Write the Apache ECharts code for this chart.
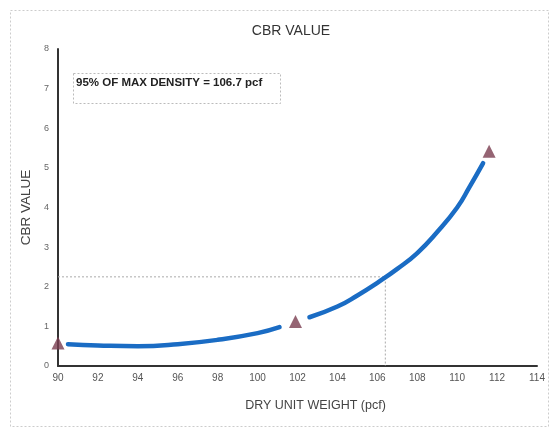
<!DOCTYPE html>
<html>
<head>
<meta charset="utf-8">
<script src="https://cdn.jsdelivr.net/npm/echarts@6/dist/echarts.min.js"></script>
<style>
html,body{margin:0;padding:0;background:#fff;}
#chart{width:550px;height:435px;}
</style>
</head>
<body>
<div id="chart"></div>
<script>
// Data
const xTicks = [90, 92, 94, 96, 98, 100, 102, 104, 106, 108, 110, 112, 114];
const curve1X = [90.5, 92, 94, 96, 98, 100, 101.1];
const curve1Y = [0.55, 0.52, 0.50, 0.55, 0.66, 0.83, 0.98];
const curve2X = [102.6, 104, 105, 106, 107, 108, 109, 110, 110.6, 111.3];
const curve2Y = [1.23, 1.50, 1.78, 2.10, 2.45, 2.85, 3.38, 4.00, 4.50, 5.12];
const pointsX = [90, 101.9, 111.6];
const pointsY = [0.58, 1.12, 5.42];
const refX = 106.4;
const refY = 2.25;
const annotation = '95% OF MAX DENSITY = 106.7 pcf';

const zip = (a, b) => a.map((v, i) => [v, b[i]]);

const chart = echarts.init(document.getElementById('chart'));
const font = '"Liberation Sans", Arial, sans-serif';
chart.setOption({
  animation: false,
  backgroundColor: '#fff',
  title: {
    text: 'CBR VALUE',
    left: 286, top: 19, textAlign: 'center',
    textStyle: {fontFamily: font, fontSize: 14, fontWeight: 'normal', color: '#333'}
  },
  grid: {left: 58, right: 13, top: 49, bottom: 69},
  xAxis: {
    type: 'value', min: 90, max: 114, interval: 2,
    name: 'DRY UNIT WEIGHT (pcf)', nameLocation: 'middle', nameGap: 33,
    nameTextStyle: {fontFamily: font, fontSize: 12.5, color: '#444', padding: [0, 0, 0, 36]},
    axisLine: {lineStyle: {color: '#333', width: 2}},
    axisTick: {show: false},
    splitLine: {show: false},
    axisLabel: {fontFamily: font, fontSize: 10, color: '#555', margin: 7}
  },
  yAxis: {
    type: 'value', min: 0, max: 8, interval: 1,
    name: 'CBR VALUE', nameLocation: 'middle', nameGap: 25,
    nameTextStyle: {fontFamily: font, fontSize: 13.5, color: '#444', padding: [0, 0, 0, 0]},
    axisLine: {show: true, lineStyle: {color: '#333', width: 2}},
    axisTick: {show: false},
    splitLine: {show: false},
    axisLabel: {fontFamily: font, fontSize: 9, color: '#666', margin: 9}
  },
  graphic: [
    {type: 'rect', left: 8, top: 8, shape: {width: 538, height: 416},
     style: {fill: 'none', stroke: '#ccc', lineWidth: 1, lineDash: [2, 2]}, silent: true, z: -1},
    {type: 'rect', left: 73, top: 73, shape: {width: 207, height: 30},
     style: {fill: '#fff', stroke: '#bbb', lineWidth: 1, lineDash: [2, 2]}, z: 10},
    {type: 'text', left: 76, top: 77, z: 11,
     style: {text: annotation, font: 'bold 11.5px "Liberation Sans", Arial, sans-serif', fill: '#222'}}
  ],
  series: [
    {type: 'line', data: [[90, refY], [refX, refY], [refX, 0]], symbol: 'none',
     lineStyle: {color: '#aaa', width: 1, type: [2, 2]}, z: 1},
    {type: 'line', smooth: 0.5, data: zip(curve1X, curve1Y), symbol: 'none',
     lineStyle: {color: '#1a6cc4', width: 4.5, cap: 'round'}, z: 3},
    {type: 'line', smooth: 0.5, data: zip(curve2X, curve2Y), symbol: 'none',
     lineStyle: {color: '#1a6cc4', width: 4.5, cap: 'round'}, z: 3},
    {type: 'scatter', data: zip(pointsX, pointsY), symbol: 'triangle', symbolSize: 13,
     itemStyle: {color: '#7b3d50'}, z: 5}
  ]
});
</script>
</body>
</html>
